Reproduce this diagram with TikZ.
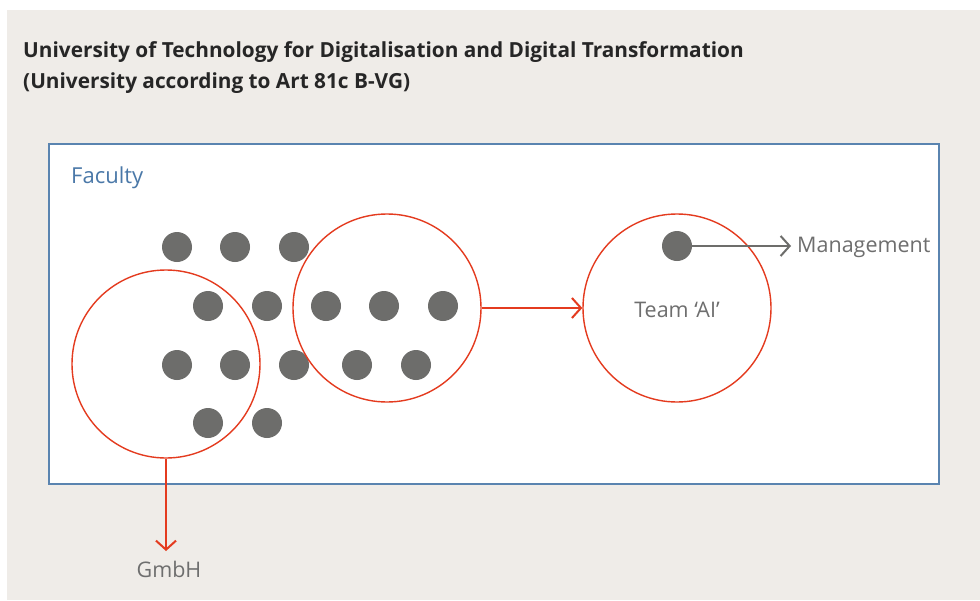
\documentclass[tikz,border=0pt]{standalone}
\usepackage{fontspec}
\setmainfont{Open Sans}
\usetikzlibrary{arrows.meta}
\definecolor{bg}{HTML}{EFECE8}
\definecolor{redc}{HTML}{E43B1F}
\definecolor{dotc}{HTML}{6D6D6B}
\definecolor{bluec}{HTML}{5A84B0}
\definecolor{bluet}{HTML}{4A78A8}
\definecolor{titlec}{HTML}{262626}
\definecolor{grayt}{HTML}{6E6E6E}
\tikzset{
  member/.style={circle,fill=dotc,draw=none,minimum size=30pt,inner sep=0pt},
  group/.style={circle,draw=redc,line width=1.4pt,minimum size=188pt,inner sep=0pt},
  redarrow/.style={draw=redc,line width=2pt,-{Straight Barb[length=9pt,width=20pt]}},
  grayarrow/.style={draw=dotc,line width=2pt,-{Straight Barb[length=9pt,width=20pt]}},
  label/.style={text=grayt,font=\fontsize{21.5}{26}\selectfont,inner sep=0pt},
  titletext/.style={anchor=base west,inner sep=0pt,text=titlec,font=\bfseries\fontsize{20.8}{25}\selectfont},
}
\begin{document}
\begin{tikzpicture}[x=1pt,y=-1pt]
\useasboundingbox (0,0) rectangle (980,600);
\fill[white] (0,0) rectangle (980,600);
\fill[bg] (7,10) rectangle (980,600);
% title
\node[titletext] (title1) at (23,57) {University of Technology for Digitalisation and Digital Transformation};
\node[titletext] (title2) at (23,88) {(University according to Art 81c B-VG)};
% faculty box
\draw[bluec,fill=white,line width=1.2pt] (49,144) rectangle (939,484);
\node[anchor=base west,inner sep=0pt,text=bluet,font=\fontsize{22}{26}\selectfont] (faculty) at (71,183) {Faculty};
% members
\foreach \n/\x/\y in {a/177/247,b/235/247,c/294/247,
  d/208/306,e/267/306,f/326/306,g/384/306,h/443/306,
  i/177/365,j/235/365,k/294/365,l/357/365,m/416/365,
  n/208/423,o/267/423}
  \node[member] (\n) at (\x,\y) {};
% groups
\node[group] (gl) at (166,364) {};
\node[group] (gm) at (387,308) {};
\node[group] (gr) at (677,308) {};
\node[member] (mgr) at (677,246) {};
\node[label,anchor=base] (team) at (677,317) {Team ‘AI’};
\node[label,anchor=base west] (mgmt) at (797,252) {Management};
\node[label,anchor=base] (gmbh) at (169,577) {GmbH};
\coordinate (gmbhtip) at (166,551);
% connectors
\draw[redarrow] (gm.east) -- (gr.west);
\draw[redarrow] (gl.south) -- (gmbhtip);
\draw[grayarrow] (mgr.center) -- ([xshift=-6pt]mgmt.west |- mgr.center);
\end{tikzpicture}
\end{document}
